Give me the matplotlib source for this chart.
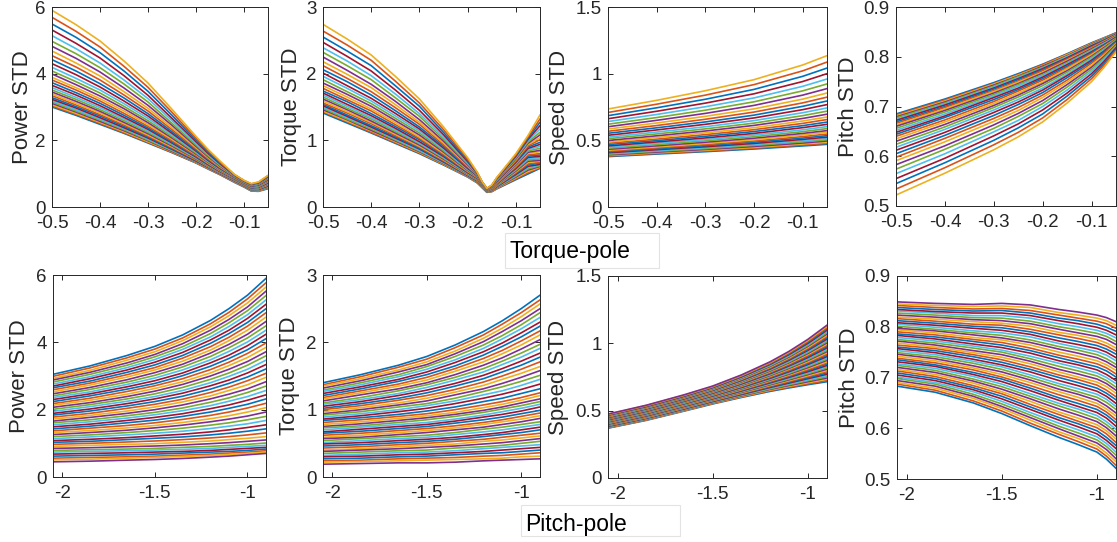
import numpy as np
import matplotlib
matplotlib.use('Agg')
import matplotlib.pyplot as plt
from matplotlib.patches import Rectangle

plt.rcParams['font.family'] = ['Liberation Sans', 'DejaVu Sans']
plt.rcParams['axes.unicode_minus'] = False

W, H = 1117, 542
matlab_colors = ['#0072BD', '#D95319', '#EDB120', '#7E2F8E',
                 '#77AC30', '#4DBEEE', '#A2142F']

# -------- torque-pole sweep (top row), 31 curves --------
# each inner list = value of every curve at one x position
tp_x_power = [-0.5, -0.45, -0.4, -0.35, -0.3, -0.25, -0.2, -0.175, -0.15, -0.12, -0.1, -0.085, -0.07, -0.05]
tp_power = [
    [3.00, 3.03, 3.07, 3.11, 3.15, 3.19, 3.23, 3.28, 3.34, 3.39, 3.45, 3.51, 3.58, 3.65, 3.73, 3.81,
     3.89, 3.99, 4.08, 4.19, 4.30, 4.42, 4.54, 4.68, 4.82, 4.97, 5.14, 5.31, 5.49, 5.69, 5.90],
    [2.75, 2.78, 2.81, 2.85, 2.88, 2.92, 2.97, 3.01, 3.06, 3.11, 3.17, 3.23, 3.29, 3.36, 3.43, 3.51,
     3.58, 3.67, 3.76, 3.86, 3.97, 4.08, 4.20, 4.32, 4.46, 4.60, 4.75, 4.91, 5.09, 5.27, 5.47],
    [2.48, 2.51, 2.54, 2.57, 2.61, 2.64, 2.68, 2.73, 2.77, 2.82, 2.87, 2.92, 2.98, 3.04, 3.11, 3.18,
     3.25, 3.33, 3.42, 3.51, 3.60, 3.70, 3.81, 3.93, 4.05, 4.18, 4.32, 4.47, 4.63, 4.80, 4.98],
    [2.21, 2.23, 2.26, 2.29, 2.32, 2.35, 2.38, 2.42, 2.46, 2.50, 2.54, 2.59, 2.64, 2.69, 2.75, 2.81,
     2.88, 2.95, 3.02, 3.10, 3.18, 3.27, 3.36, 3.46, 3.57, 3.69, 3.81, 3.94, 4.08, 4.22, 4.38],
    [1.92, 1.94, 1.96, 1.99, 2.01, 2.04, 2.07, 2.10, 2.13, 2.16, 2.20, 2.24, 2.28, 2.33, 2.37, 2.42,
     2.47, 2.53, 2.59, 2.66, 2.73, 2.80, 2.88, 2.96, 3.05, 3.15, 3.25, 3.35, 3.47, 3.59, 3.72],
    [1.63, 1.64, 1.66, 1.67, 1.69, 1.71, 1.73, 1.75, 1.78, 1.80, 1.83, 1.86, 1.89, 1.92, 1.95, 1.99,
     2.03, 2.07, 2.11, 2.16, 2.21, 2.26, 2.32, 2.38, 2.45, 2.51, 2.59, 2.66, 2.75, 2.84, 2.93],
    [1.32, 1.33, 1.34, 1.35, 1.36, 1.37, 1.38, 1.40, 1.41, 1.43, 1.44, 1.46, 1.48, 1.50, 1.52, 1.54,
     1.57, 1.59, 1.62, 1.65, 1.68, 1.71, 1.75, 1.78, 1.82, 1.86, 1.91, 1.96, 2.01, 2.06, 2.12],
    [1.14, 1.15, 1.15, 1.16, 1.17, 1.18, 1.19, 1.20, 1.21, 1.22, 1.23, 1.24, 1.26, 1.27, 1.29, 1.31,
     1.32, 1.34, 1.36, 1.38, 1.40, 1.43, 1.45, 1.48, 1.51, 1.54, 1.58, 1.61, 1.65, 1.69, 1.73],
    [.970, .975, .980, .985, .991, .997, 1.003, 1.010, 1.018, 1.025, 1.034, 1.043, 1.052, 1.062, 1.073, 1.084,
     1.096, 1.109, 1.123, 1.138, 1.154, 1.170, 1.188, 1.207, 1.227, 1.249, 1.272, 1.296, 1.323, 1.350, 1.380],
    [.740, .748, .756, .764, .772, .780, .788, .796, .804, .812, .820, .828, .836, .844, .852, .860,
     .868, .876, .884, .892, .900, .908, .916, .924, .932, .940, .948, .956, .964, .972, .980],
    [.600, .607, .613, .620, .627, .633, .640, .647, .653, .660, .667, .673, .680, .687, .693, .700,
     .707, .713, .720, .727, .733, .740, .747, .753, .760, .767, .773, .780, .787, .793, .800],
    [.480, .487, .495, .502, .509, .517, .524, .531, .539, .546, .553, .561, .568, .575, .583, .590,
     .597, .605, .612, .619, .627, .634, .641, .649, .656, .663, .671, .678, .685, .693, .700],
    [.470, .479, .489, .498, .507, .517, .526, .535, .545, .554, .563, .573, .582, .591, .601, .610,
     .619, .629, .638, .647, .657, .666, .675, .685, .694, .703, .713, .722, .731, .741, .750],
    [.550, .563, .577, .590, .603, .617, .630, .643, .657, .670, .683, .697, .710, .723, .737, .750,
     .763, .777, .790, .803, .817, .830, .843, .857, .870, .883, .897, .910, .923, .937, .950],
]

tp_x_torque = [-0.5, -0.45, -0.4, -0.35, -0.3, -0.25, -0.225, -0.2, -0.18, -0.17, -0.16, -0.15, -0.14,
               -0.12, -0.1, -0.075, -0.05]
tp_torque = [
    [1.41, 1.43, 1.44, 1.46, 1.48, 1.50, 1.52, 1.54, 1.56, 1.59, 1.62, 1.65, 1.68, 1.71, 1.74, 1.78,
     1.82, 1.86, 1.91, 1.96, 2.01, 2.06, 2.12, 2.18, 2.25, 2.32, 2.39, 2.47, 2.55, 2.64, 2.74],
    [1.26, 1.28, 1.29, 1.31, 1.32, 1.34, 1.36, 1.38, 1.41, 1.43, 1.46, 1.48, 1.51, 1.54, 1.58, 1.61,
     1.65, 1.69, 1.73, 1.78, 1.82, 1.88, 1.93, 1.99, 2.05, 2.12, 2.19, 2.26, 2.34, 2.43, 2.52],
    [1.11, 1.12, 1.14, 1.15, 1.17, 1.19, 1.20, 1.22, 1.25, 1.27, 1.29, 1.32, 1.34, 1.37, 1.40, 1.44,
     1.47, 1.51, 1.55, 1.59, 1.63, 1.68, 1.73, 1.79, 1.84, 1.91, 1.97, 2.04, 2.12, 2.20, 2.28],
    [.955, .967, .979, .992, 1.006, 1.020, 1.036, 1.053, 1.072, 1.091, 1.111, 1.133, 1.156, 1.181, 1.207, 1.235,
     1.265, 1.297, 1.331, 1.367, 1.405, 1.446, 1.490, 1.537, 1.586, 1.639, 1.696, 1.755, 1.819, 1.888, 1.960],
    [.80, .81, .82, .83, .84, .85, .87, .88, .90, .91, .93, .95, .96, .98, 1.01, 1.03,
     1.05, 1.08, 1.11, 1.14, 1.17, 1.20, 1.24, 1.27, 1.31, 1.36, 1.40, 1.45, 1.51, 1.56, 1.62],
    [.630, .637, .644, .651, .659, .667, .676, .686, .696, .707, .718, .731, .744, .758, .773, .789,
     .806, .824, .843, .864, .885, .909, .933, .960, .988, 1.018, 1.050, 1.084, 1.120, 1.159, 1.200],
    [.540, .545, .550, .556, .562, .568, .575, .582, .590, .598, .607, .616, .626, .637, .648, .660,
     .672, .686, .701, .716, .733, .750, .769, .789, .810, .833, .857, .882, .910, .939, .970],
    [.450, .453, .457, .461, .465, .469, .473, .478, .484, .489, .495, .501, .508, .515, .523, .531,
     .539, .549, .558, .569, .580, .592, .604, .618, .632, .647, .664, .681, .699, .719, .740],
    [.360, .365, .371, .376, .381, .387, .392, .397, .403, .408, .413, .419, .424, .429, .435, .440,
     .445, .451, .456, .461, .467, .472, .477, .483, .488, .493, .499, .504, .509, .515, .520],
    [.290, .293, .296, .299, .302, .305, .308, .311, .314, .317, .320, .323, .326, .329, .332, .335,
     .338, .341, .344, .347, .350, .353, .356, .359, .362, .365, .368, .371, .374, .377, .380],
    [.220, .222, .224, .226, .228, .230, .232, .234, .236, .238, .240, .242, .244, .246, .248, .250,
     .252, .254, .256, .258, .260, .262, .264, .266, .268, .270, .272, .274, .276, .278, .280],
    [.230, .233, .237, .240, .243, .247, .250, .253, .257, .260, .263, .267, .270, .273, .277, .280,
     .283, .287, .290, .293, .297, .300, .303, .307, .310, .313, .317, .320, .323, .327, .330],
    [.270, .276, .281, .287, .293, .298, .304, .310, .315, .321, .327, .332, .338, .344, .349, .355,
     .361, .366, .372, .378, .383, .389, .395, .400, .406, .412, .417, .423, .429, .434, .440],
    [.340, .349, .359, .368, .377, .387, .396, .405, .415, .424, .433, .443, .452, .461, .471, .480,
     .489, .499, .508, .517, .527, .536, .545, .555, .564, .573, .583, .592, .601, .611, .620],
    [.410, .423, .436, .449, .462, .475, .488, .501, .514, .527, .540, .553, .566, .579, .592, .605,
     .618, .631, .644, .657, .670, .683, .696, .709, .722, .735, .748, .761, .774, .787, .800],
    [.495, .514, .533, .553, .572, .591, .610, .629, .648, .668, .687, .706, .725, .744, .763, .783,
     .802, .821, .840, .859, .878, .898, .917, .936, .955, .974, .993, 1.013, 1.032, 1.051, 1.070],
    [.58, .59, .60, .61, .62, .63, .64, .66, .67, .69, .70, .72, .74, .76, .78, .80,
     .83, .85, .88, .91, .94, .97, 1.01, 1.04, 1.08, 1.12, 1.17, 1.22, 1.27, 1.32, 1.38],
]

tp_x_speed = [-0.5, -0.4, -0.3, -0.2, -0.1, -0.05]
tp_speed = [
    [.378, .382, .387, .391, .396, .401, .407, .413, .419, .426, .433, .441, .449, .458, .468, .478,
     .488, .499, .512, .524, .538, .553, .568, .585, .602, .621, .641, .662, .685, .709, .735],
    [.397, .402, .407, .412, .418, .423, .430, .436, .444, .451, .459, .468, .478, .488, .498, .509,
     .521, .534, .548, .562, .578, .594, .611, .630, .650, .671, .694, .718, .744, .771, .800],
    [.415, .420, .426, .432, .438, .445, .452, .460, .468, .477, .486, .496, .506, .518, .530, .543,
     .556, .570, .586, .602, .620, .638, .658, .680, .702, .726, .752, .779, .808, .839, .872],
    [.435, .441, .447, .454, .462, .469, .477, .486, .495, .505, .516, .527, .539, .552, .566, .580,
     .595, .612, .629, .648, .668, .689, .712, .736, .762, .789, .818, .849, .882, .918, .955],
    [.458, .465, .473, .480, .489, .497, .507, .517, .528, .540, .552, .565, .579, .595, .610, .627,
     .645, .664, .685, .707, .730, .755, .781, .809, .839, .871, .905, .941, .980, 1.021, 1.065],
    [.470, .478, .486, .495, .504, .513, .524, .535, .547, .560, .573, .588, .603, .620, .637, .656,
     .675, .696, .719, .743, .768, .795, .824, .855, .888, .923, .960, 1.000, 1.042, 1.087, 1.135],
]

tp_x_pitch = [-0.5, -0.4, -0.3, -0.25, -0.2, -0.15, -0.1, -0.075, -0.05]
tp_pitch = [
    [.685, .683, .681, .679, .677, .674, .672, .669, .666, .663, .660, .656, .652, .648, .644, .640,
     .635, .630, .624, .618, .612, .605, .598, .591, .583, .574, .565, .555, .545, .534, .522],
    [.715, .713, .711, .709, .707, .705, .703, .700, .698, .695, .692, .689, .685, .681, .678, .673,
     .669, .664, .659, .654, .648, .642, .636, .629, .621, .614, .605, .596, .587, .577, .566],
    [.748, .746, .745, .743, .741, .739, .737, .735, .732, .730, .727, .724, .721, .718, .714, .710,
     .706, .702, .698, .693, .688, .682, .676, .670, .663, .656, .649, .641, .632, .623, .613],
    [.766, .764, .763, .761, .760, .758, .756, .754, .751, .749, .746, .744, .741, .737, .734, .731,
     .727, .723, .719, .714, .709, .704, .698, .692, .686, .680, .672, .665, .657, .648, .639],
    [.785, .784, .782, .781, .779, .777, .776, .774, .772, .769, .767, .764, .762, .759, .756, .753,
     .749, .746, .742, .737, .733, .728, .723, .718, .712, .706, .700, .693, .685, .677, .669],
    [.806, .805, .804, .802, .801, .800, .798, .796, .795, .793, .791, .788, .786, .784, .781, .778,
     .776, .772, .769, .765, .762, .758, .753, .749, .744, .739, .733, .727, .721, .714, .707],
    [.828, .827, .826, .825, .824, .823, .822, .820, .819, .817, .816, .814, .812, .810, .808, .806,
     .804, .801, .799, .796, .793, .790, .787, .783, .779, .775, .771, .766, .761, .756, .750],
    [.838, .837, .837, .836, .835, .834, .833, .832, .831, .830, .829, .827, .826, .824, .823, .821,
     .820, .818, .816, .813, .811, .809, .806, .803, .800, .797, .794, .790, .786, .782, .778],
    [.848, .848, .847, .847, .846, .846, .845, .844, .844, .843, .842, .841, .840, .839, .838, .837,
     .836, .835, .834, .832, .831, .829, .828, .826, .824, .822, .820, .818, .815, .813, .810],
]

# -------- pitch-pole sweep (bottom row), 46 curves --------
pp_x = [-2.05, -1.85, -1.65, -1.5, -1.35, -1.2, -1.1, -1.0, -0.9]
pp_power = [
    [3.05, 2.99, 2.93, 2.88, 2.82, 2.76, 2.70, 2.65, 2.59, 2.53, 2.47, 2.41, 2.36, 2.30, 2.24, 2.18,
     2.13, 2.07, 2.01, 1.95, 1.89, 1.84, 1.78, 1.72, 1.66, 1.61, 1.55, 1.49, 1.43, 1.37, 1.32, 1.26,
     1.20, 1.14, 1.08, 1.03, 0.97, 0.91, 0.85, 0.79, 0.74, 0.68, 0.62, 0.56, 0.51, 0.45],
    [3.30, 3.24, 3.17, 3.11, 3.05, 2.98, 2.92, 2.85, 2.79, 2.73, 2.66, 2.60, 2.53, 2.47, 2.41, 2.34,
     2.28, 2.21, 2.15, 2.09, 2.02, 1.96, 1.89, 1.83, 1.77, 1.70, 1.64, 1.57, 1.51, 1.45, 1.38, 1.32,
     1.25, 1.19, 1.12, 1.06, 1.00, 0.94, 0.87, 0.81, 0.76, 0.70, 0.64, 0.58, 0.53, 0.47],
    [3.61, 3.54, 3.47, 3.39, 3.32, 3.25, 3.18, 3.11, 3.04, 2.97, 2.89, 2.82, 2.75, 2.68, 2.61, 2.54,
     2.46, 2.39, 2.32, 2.25, 2.18, 2.11, 2.04, 1.96, 1.89, 1.82, 1.75, 1.68, 1.61, 1.53, 1.46, 1.39,
     1.32, 1.25, 1.17, 1.11, 1.04, 0.97, 0.90, 0.83, 0.78, 0.72, 0.66, 0.60, 0.56, 0.50],
    [3.88, 3.80, 3.72, 3.64, 3.57, 3.49, 3.41, 3.33, 3.25, 3.18, 3.10, 3.02, 2.94, 2.86, 2.78, 2.71,
     2.63, 2.55, 2.47, 2.39, 2.32, 2.24, 2.16, 2.08, 2.00, 1.92, 1.85, 1.77, 1.69, 1.61, 1.53, 1.46,
     1.38, 1.30, 1.22, 1.15, 1.07, 0.99, 0.92, 0.85, 0.80, 0.74, 0.68, 0.62, 0.58, 0.52],
    [4.22, 4.13, 4.05, 3.96, 3.87, 3.79, 3.70, 3.61, 3.53, 3.44, 3.35, 3.27, 3.18, 3.09, 3.01, 2.92,
     2.83, 2.75, 2.66, 2.57, 2.49, 2.40, 2.31, 2.23, 2.14, 2.05, 1.97, 1.88, 1.80, 1.71, 1.62, 1.54,
     1.45, 1.36, 1.27, 1.19, 1.11, 1.03, 0.95, 0.88, 0.82, 0.76, 0.71, 0.65, 0.61, 0.55],
    [4.65, 4.55, 4.46, 4.36, 4.26, 4.16, 4.07, 3.97, 3.87, 3.77, 3.68, 3.58, 3.48, 3.39, 3.29, 3.19,
     3.09, 3.00, 2.90, 2.80, 2.71, 2.61, 2.51, 2.41, 2.32, 2.22, 2.12, 2.03, 1.93, 1.83, 1.73, 1.64,
     1.54, 1.44, 1.34, 1.25, 1.16, 1.07, 0.99, 0.91, 0.85, 0.79, 0.74, 0.68, 0.64, 0.59],
    [5.00, 4.89, 4.79, 4.68, 4.58, 4.47, 4.36, 4.26, 4.15, 4.05, 3.94, 3.84, 3.73, 3.62, 3.52, 3.41,
     3.31, 3.20, 3.09, 2.99, 2.88, 2.78, 2.67, 2.57, 2.46, 2.35, 2.25, 2.14, 2.04, 1.93, 1.82, 1.72,
     1.61, 1.51, 1.40, 1.30, 1.20, 1.11, 1.02, 0.94, 0.88, 0.82, 0.76, 0.71, 0.67, 0.62],
    [5.40, 5.29, 5.17, 5.05, 4.94, 4.82, 4.71, 4.59, 4.48, 4.36, 4.24, 4.13, 4.01, 3.90, 3.78, 3.67,
     3.55, 3.43, 3.32, 3.20, 3.09, 2.97, 2.86, 2.74, 2.62, 2.51, 2.39, 2.28, 2.16, 2.05, 1.93, 1.81,
     1.70, 1.58, 1.47, 1.36, 1.25, 1.15, 1.06, 0.97, 0.91, 0.85, 0.79, 0.74, 0.70, 0.66],
    [5.90, 5.77, 5.64, 5.52, 5.39, 5.26, 5.13, 5.00, 4.88, 4.75, 4.62, 4.49, 4.36, 4.24, 4.11, 3.98,
     3.85, 3.72, 3.60, 3.47, 3.34, 3.21, 3.08, 2.96, 2.83, 2.70, 2.57, 2.44, 2.32, 2.19, 2.06, 1.93,
     1.80, 1.68, 1.55, 1.43, 1.31, 1.20, 1.10, 1.01, 0.94, 0.88, 0.83, 0.78, 0.74, 0.70],
]
pp_torque = [
    [1.40, 1.37, 1.35, 1.32, 1.29, 1.27, 1.24, 1.21, 1.18, 1.16, 1.13, 1.10, 1.08, 1.05, 1.02, 1.00,
     0.97, 0.94, 0.92, 0.89, 0.86, 0.84, 0.81, 0.78, 0.75, 0.73, 0.70, 0.67, 0.65, 0.62, 0.59, 0.57,
     0.54, 0.51, 0.49, 0.46, 0.43, 0.40, 0.38, 0.35, 0.32, 0.30, 0.27, 0.24, 0.22, 0.19],
    [1.52, 1.49, 1.46, 1.43, 1.40, 1.37, 1.34, 1.31, 1.28, 1.25, 1.22, 1.18, 1.15, 1.12, 1.09, 1.06,
     1.03, 1.00, 0.97, 0.94, 0.91, 0.88, 0.85, 0.82, 0.79, 0.76, 0.74, 0.71, 0.68, 0.65, 0.62, 0.59,
     0.57, 0.54, 0.51, 0.48, 0.45, 0.42, 0.40, 0.37, 0.34, 0.31, 0.28, 0.25, 0.23, 0.20],
    [1.66, 1.63, 1.59, 1.56, 1.52, 1.49, 1.45, 1.42, 1.38, 1.35, 1.31, 1.28, 1.24, 1.21, 1.17, 1.14,
     1.10, 1.07, 1.04, 1.00, 0.97, 0.93, 0.90, 0.87, 0.84, 0.81, 0.78, 0.75, 0.72, 0.69, 0.66, 0.63,
     0.60, 0.57, 0.54, 0.51, 0.48, 0.45, 0.42, 0.39, 0.36, 0.33, 0.30, 0.27, 0.24, 0.21],
    [1.79, 1.75, 1.71, 1.67, 1.64, 1.60, 1.56, 1.52, 1.48, 1.44, 1.40, 1.37, 1.33, 1.29, 1.25, 1.21,
     1.17, 1.13, 1.09, 1.06, 1.02, 0.98, 0.94, 0.91, 0.88, 0.85, 0.81, 0.78, 0.75, 0.72, 0.69, 0.66,
     0.62, 0.59, 0.56, 0.53, 0.50, 0.47, 0.44, 0.40, 0.37, 0.34, 0.31, 0.28, 0.25, 0.21],
    [1.96, 1.92, 1.87, 1.83, 1.79, 1.74, 1.70, 1.65, 1.61, 1.57, 1.52, 1.48, 1.44, 1.39, 1.35, 1.30,
     1.26, 1.22, 1.17, 1.13, 1.09, 1.04, 1.00, 0.96, 0.93, 0.90, 0.86, 0.83, 0.80, 0.76, 0.73, 0.70,
     0.66, 0.63, 0.59, 0.56, 0.53, 0.49, 0.46, 0.43, 0.39, 0.36, 0.33, 0.29, 0.26, 0.22],
    [2.16, 2.11, 2.06, 2.01, 1.96, 1.91, 1.86, 1.81, 1.76, 1.71, 1.66, 1.61, 1.56, 1.51, 1.46, 1.41,
     1.36, 1.31, 1.27, 1.22, 1.17, 1.12, 1.07, 1.03, 0.99, 0.96, 0.92, 0.89, 0.85, 0.81, 0.78, 0.74,
     0.71, 0.67, 0.63, 0.60, 0.56, 0.53, 0.49, 0.45, 0.42, 0.38, 0.35, 0.31, 0.27, 0.24],
    [2.32, 2.27, 2.21, 2.16, 2.10, 2.05, 1.99, 1.94, 1.88, 1.83, 1.77, 1.72, 1.67, 1.61, 1.56, 1.50,
     1.45, 1.39, 1.34, 1.28, 1.23, 1.17, 1.12, 1.08, 1.04, 1.01, 0.97, 0.93, 0.89, 0.85, 0.82, 0.78,
     0.74, 0.70, 0.66, 0.63, 0.59, 0.55, 0.51, 0.47, 0.44, 0.40, 0.36, 0.32, 0.28, 0.25],
    [2.50, 2.44, 2.38, 2.32, 2.26, 2.20, 2.14, 2.08, 2.02, 1.96, 1.90, 1.84, 1.78, 1.72, 1.66, 1.60,
     1.54, 1.48, 1.42, 1.36, 1.30, 1.24, 1.18, 1.14, 1.10, 1.06, 1.02, 0.98, 0.94, 0.90, 0.86, 0.82,
     0.78, 0.74, 0.70, 0.66, 0.62, 0.58, 0.54, 0.50, 0.46, 0.42, 0.38, 0.34, 0.30, 0.26],
    [2.70, 2.63, 2.57, 2.50, 2.44, 2.37, 2.30, 2.24, 2.17, 2.11, 2.04, 1.97, 1.91, 1.84, 1.78, 1.71,
     1.64, 1.58, 1.51, 1.45, 1.38, 1.31, 1.25, 1.21, 1.16, 1.12, 1.08, 1.04, 0.99, 0.95, 0.91, 0.87,
     0.82, 0.78, 0.74, 0.70, 0.65, 0.61, 0.57, 0.53, 0.48, 0.44, 0.40, 0.36, 0.31, 0.27],
]
pp_speed = [
    [.370, .372, .375, .377, .379, .382, .384, .386, .389, .391, .393, .396, .398, .400, .403, .405,
     .407, .410, .412, .414, .417, .419, .421, .424, .426, .428, .431, .433, .435, .438, .440, .442,
     .445, .447, .449, .452, .454, .456, .459, .461, .463, .466, .468, .470, .473, .475],
    [.428, .430, .433, .435, .438, .440, .443, .445, .448, .450, .453, .455, .458, .460, .463, .465,
     .468, .470, .473, .475, .478, .480, .483, .485, .488, .490, .493, .495, .498, .500, .503, .505,
     .508, .510, .513, .515, .518, .520, .523, .525, .528, .530, .533, .535, .538, .540],
    [.497, .500, .502, .505, .508, .510, .513, .516, .519, .521, .524, .527, .529, .532, .535, .537,
     .540, .543, .545, .548, .551, .553, .556, .559, .562, .564, .567, .570, .572, .575, .578, .580,
     .583, .586, .588, .591, .594, .596, .599, .602, .605, .607, .610, .613, .615, .618],
    [.550, .553, .556, .559, .562, .565, .568, .571, .574, .577, .580, .583, .585, .588, .591, .594,
     .597, .600, .603, .606, .609, .612, .615, .618, .621, .624, .627, .630, .633, .636, .639, .642,
     .645, .648, .651, .653, .656, .659, .662, .665, .668, .671, .674, .677, .680, .683],
    [.598, .602, .605, .609, .613, .617, .620, .624, .628, .631, .635, .639, .643, .646, .650, .654,
     .657, .661, .665, .669, .672, .676, .680, .683, .687, .691, .694, .698, .702, .706, .709, .713,
     .717, .720, .724, .728, .732, .735, .739, .743, .746, .750, .754, .758, .761, .765],
    [.643, .648, .653, .658, .662, .667, .672, .677, .682, .687, .692, .697, .701, .706, .711, .716,
     .721, .726, .731, .735, .740, .745, .750, .755, .760, .765, .770, .774, .779, .784, .789, .794,
     .799, .804, .808, .813, .818, .823, .828, .833, .838, .843, .847, .852, .857, .862],
    [.669, .675, .681, .687, .693, .699, .705, .711, .717, .723, .729, .735, .741, .747, .753, .759,
     .765, .771, .777, .783, .789, .795, .801, .808, .814, .820, .826, .832, .838, .844, .850, .856,
     .862, .868, .874, .880, .886, .892, .898, .904, .910, .916, .922, .928, .934, .940],
    [.693, .700, .708, .715, .723, .730, .738, .745, .753, .760, .768, .775, .783, .790, .798, .805,
     .813, .820, .828, .835, .843, .850, .858, .865, .873, .880, .888, .895, .903, .910, .918, .925,
     .933, .940, .948, .955, .963, .970, .978, .985, .993, 1.000, 1.008, 1.015, 1.023, 1.030],
    [.715, .724, .734, .743, .752, .762, .771, .780, .790, .799, .808, .818, .827, .836, .846, .855,
     .864, .874, .883, .892, .902, .911, .920, .930, .939, .948, .958, .967, .976, .986, .995, 1.004,
     1.014, 1.023, 1.032, 1.042, 1.051, 1.060, 1.070, 1.079, 1.088, 1.098, 1.107, 1.116, 1.126, 1.135],
]
pp_x_pitch = [-2.05, -1.85, -1.65, -1.5, -1.35, -1.2, -1.1, -1.0, -0.95, -0.9]
pp_pitch = [
    [.683, .687, .690, .694, .698, .701, .705, .709, .713, .716, .720, .724, .727, .731, .735, .738,
     .742, .746, .749, .753, .757, .760, .764, .768, .772, .775, .779, .783, .786, .790, .794, .797,
     .801, .805, .808, .812, .816, .819, .823, .827, .831, .834, .838, .842, .845, .849],
    [.671, .675, .679, .683, .687, .690, .694, .698, .702, .706, .710, .714, .718, .722, .725, .729,
     .733, .737, .741, .745, .749, .753, .757, .760, .764, .768, .772, .776, .780, .784, .788, .792,
     .795, .799, .803, .807, .811, .815, .819, .823, .827, .830, .834, .838, .842, .846],
    [.650, .654, .659, .663, .667, .672, .676, .680, .684, .689, .693, .697, .702, .706, .710, .715,
     .719, .723, .728, .732, .736, .741, .745, .749, .753, .758, .762, .766, .771, .775, .779, .784,
     .788, .792, .797, .801, .805, .810, .814, .818, .822, .827, .831, .835, .840, .844],
    [.629, .634, .639, .643, .648, .653, .658, .663, .668, .672, .677, .682, .687, .692, .697, .701,
     .706, .711, .716, .721, .725, .730, .735, .740, .745, .750, .754, .759, .764, .769, .774, .778,
     .783, .788, .793, .798, .803, .807, .812, .817, .822, .827, .832, .836, .841, .846],
    [.605, .610, .616, .621, .626, .631, .637, .642, .647, .653, .658, .663, .668, .674, .679, .684,
     .690, .695, .700, .705, .711, .716, .721, .727, .732, .737, .742, .748, .753, .758, .764, .769,
     .774, .780, .785, .790, .795, .801, .806, .811, .817, .822, .827, .832, .838, .843],
    [.582, .588, .593, .599, .604, .610, .616, .621, .627, .632, .638, .644, .649, .655, .660, .666,
     .672, .677, .683, .688, .694, .700, .705, .711, .716, .722, .728, .733, .739, .744, .750, .756,
     .761, .767, .772, .778, .784, .789, .795, .800, .806, .812, .817, .823, .828, .834],
    [.568, .574, .580, .585, .591, .597, .603, .609, .614, .620, .626, .632, .638, .643, .649, .655,
     .661, .667, .672, .678, .684, .690, .696, .701, .707, .713, .719, .725, .730, .736, .742, .748,
     .754, .759, .765, .771, .777, .783, .788, .794, .800, .806, .812, .817, .823, .829],
    [.553, .559, .565, .571, .577, .583, .589, .595, .601, .607, .613, .619, .625, .631, .637, .643,
     .649, .655, .661, .667, .673, .679, .685, .691, .697, .703, .709, .715, .721, .727, .733, .739,
     .745, .751, .757, .763, .769, .775, .781, .787, .793, .799, .805, .811, .817, .823],
    [.539, .545, .551, .558, .564, .570, .576, .582, .589, .595, .601, .607, .613, .620, .626, .632,
     .638, .644, .651, .657, .663, .669, .675, .682, .688, .694, .700, .706, .713, .719, .725, .731,
     .737, .744, .750, .756, .762, .768, .775, .781, .787, .793, .799, .806, .812, .818],
    [.521, .527, .534, .540, .547, .553, .560, .566, .572, .579, .585, .592, .598, .604, .611, .617,
     .624, .630, .637, .643, .649, .656, .662, .669, .675, .681, .688, .694, .701, .707, .714, .720,
     .726, .733, .739, .746, .752, .758, .765, .771, .778, .784, .791, .797, .803, .810],
]

# ticks and labels
tp_xticks = [-0.5, -0.4, -0.3, -0.2, -0.1]
tp_xticklabels = ['-0.5', '-0.4', '-0.3', '-0.2', '-0.1']
pp_xticks = [-2, -1.5, -1]
pp_xticklabels = ['-2', '-1.5', '-1']
ylabels = ['Power STD', 'Torque STD', 'Speed STD', 'Pitch STD']
yticks = [[0, 2, 4, 6], [0, 1, 2, 3], [0, 0.5, 1, 1.5], [0.5, 0.6, 0.7, 0.8, 0.9]]
yticklabels = [['0', '2', '4', '6'], ['0', '1', '2', '3'], ['0', '0.5', '1', '1.5'],
               ['0.5', '0.6', '0.7', '0.8', '0.9']]
ylims = [(0, 6), (0, 3), (0, 1.5), (0.5, 0.9)]

# axes boxes in pixels: left, top, right, bottom
boxes = [
    [(52, 7, 268, 207), (323, 7, 540, 207), (608, 7, 827, 207), (896, 7, 1116, 206)],
    [(53, 275, 266, 477), (323, 275, 540, 477), (608, 276, 827, 478), (897, 276, 1116, 479)],
]
label_x = [[-0.089, -0.098, -0.174, -0.166], [-0.110, -0.106, -0.178, -0.167]]

rows = [
    (tp_xticks, tp_xticklabels, (-0.5, -0.05),
     [(tp_x_power, tp_power), (tp_x_torque, tp_torque), (tp_x_speed, tp_speed), (tp_x_pitch, tp_pitch)]),
    (pp_xticks, pp_xticklabels, (-2.05, -0.9),
     [(pp_x, pp_power), (pp_x, pp_torque), (pp_x, pp_speed), (pp_x_pitch, pp_pitch)]),
]

fig = plt.figure(figsize=(W / 100, H / 100), dpi=100)

for r, (xt, xtl, xlim, series) in enumerate(rows):
    for c, (xs, cols) in enumerate(series):
        l, t, rr, b = boxes[r][c]
        ax = fig.add_axes([l / W, 1 - b / H, (rr - l) / W, (b - t) / H])
        ax.set_prop_cycle(color=matlab_colors)
        ax.plot(xs, np.array(cols), lw=1.2, solid_joinstyle='round')
        ax.set_xlim(*xlim)
        ax.set_ylim(*ylims[c])
        ax.set_xticks(xt)
        ax.set_xticklabels(xtl)
        ax.set_yticks(yticks[c])
        ax.set_yticklabels(yticklabels[c])
        ax.tick_params(direction='in', length=3.5, width=0.7, top=True, right=True,
                       labelsize=13.5, colors='#262626')
        ax.tick_params(axis='x', pad=5.5)
        ax.tick_params(axis='y', pad=4.5)
        for s in ax.spines.values():
            s.set_color('#262626')
            s.set_linewidth(0.7)
        ax.set_ylabel(ylabels[c], fontsize=16, color='#262626')
        ax.yaxis.set_label_coords(label_x[r][c], 0.5)

# boxed captions under each row
for text, (bl, bt, br, bb), tx, ty in [('Torque-pole', (505, 233, 659, 268), 509, 258),
                                       ('Pitch-pole', (521, 505, 680, 536), 525, 531)]:
    fig.add_artist(Rectangle((bl / W, 1 - bb / H), (br - bl) / W, (bb - bt) / H,
                             transform=fig.transFigure, fill=False,
                             edgecolor='#e3e3e3', lw=0.8))
    fig.text(tx / W, 1 - ty / H, text, fontsize=16.5, ha='left', va='baseline', color='black')

fig.savefig('out.png', dpi=100)
